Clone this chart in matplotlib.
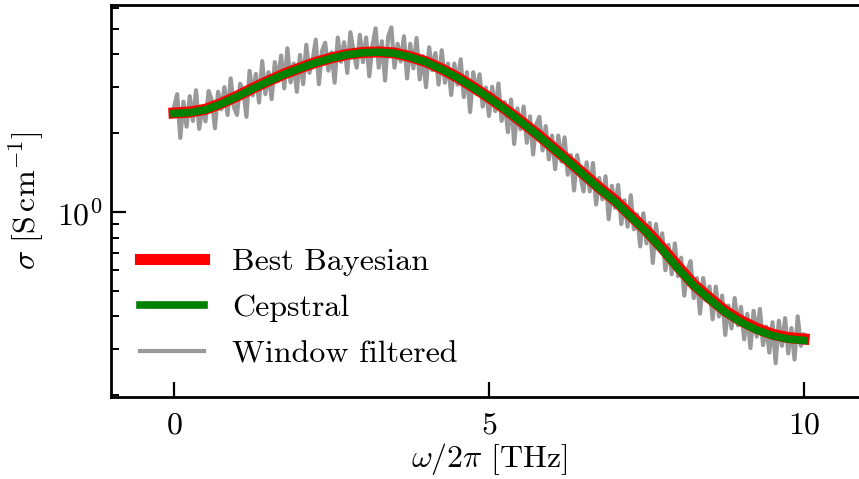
import numpy as np
import matplotlib
matplotlib.use("Agg")
import matplotlib.pyplot as plt
from matplotlib.ticker import LogLocator, NullFormatter, FixedLocator

# ---- data ----
freq_smooth = [0.00, 0.25, 0.50, 0.75, 1.00, 1.25, 1.50, 1.75, 2.00, 2.25,
               2.50, 2.75, 3.00, 3.25, 3.50, 3.75, 4.00, 4.25, 4.50, 4.75,
               5.00, 5.25, 5.50, 5.75, 6.00, 6.25, 6.50, 6.75, 7.00, 7.25,
               7.50, 7.75, 8.00, 8.25, 8.50, 8.75, 9.00, 9.25, 9.50, 9.75,
               10.00]
best_bayesian = [2.39, 2.41, 2.47, 2.60, 2.77, 2.97, 3.17, 3.37, 3.55, 3.73,
                 3.88, 4.00, 4.07, 4.09, 4.05, 3.92, 3.75, 3.52, 3.27, 3.00,
                 2.74, 2.48, 2.23, 2.00, 1.78, 1.58, 1.40, 1.24, 1.11, 0.97,
                 0.85, 0.73, 0.62, 0.53, 0.47, 0.42, 0.385, 0.36, 0.342, 0.332,
                 0.328]
cepstral = [2.38, 2.40, 2.46, 2.59, 2.76, 2.96, 3.16, 3.36, 3.54, 3.72,
            3.87, 3.99, 4.06, 4.08, 4.04, 3.91, 3.74, 3.51, 3.26, 2.99,
            2.73, 2.47, 2.22, 1.99, 1.77, 1.57, 1.39, 1.23, 1.10, 0.96,
            0.84, 0.72, 0.61, 0.525, 0.465, 0.415, 0.38, 0.355, 0.338, 0.328,
            0.324]

freq_window = [round(0.05 * i, 2) for i in range(201)]
window_filtered = [
    2.51, 2.82, 1.92, 2.64, 2.12, 2.77, 2.23, 2.92, 2.08, 2.53,
    2.22, 2.90, 2.67, 2.09, 2.88, 2.47, 3.00, 2.35, 3.24, 2.52,
    2.35, 3.09, 2.91, 2.31, 3.46, 2.79, 3.37, 2.62, 3.77, 2.82,
    3.42, 2.70, 3.74, 3.16, 3.96, 2.97, 4.22, 3.13, 3.69, 2.88,
    3.98, 3.08, 4.35, 3.40, 3.80, 4.55, 3.08, 4.13, 4.43, 3.47,
    4.07, 3.12, 4.64, 3.75, 4.45, 3.40, 4.86, 4.11, 3.56, 4.75,
    3.74, 4.64, 3.30, 4.33, 5.03, 3.56, 4.49, 3.18, 4.68, 5.07,
    3.56, 4.39, 3.76, 4.69, 3.24, 4.39, 3.54, 4.62, 3.21, 3.94,
    3.00, 4.26, 3.48, 4.05, 3.07, 4.15, 3.12, 3.69, 2.80, 3.69,
    3.07, 3.83, 2.75, 3.42, 2.41, 3.42, 2.83, 3.36, 2.53, 2.99,
    2.33, 3.01, 2.43, 3.10, 2.23, 2.63, 2.02, 2.69, 1.82, 2.49,
    2.07, 2.53, 1.84, 2.32, 1.66, 2.16, 2.31, 1.72, 2.13, 1.59,
    1.96, 1.46, 1.96, 1.56, 1.93, 1.39, 1.65, 1.21, 1.65, 1.38,
    1.20, 1.55, 1.20, 1.54, 1.07, 1.35, 1.12, 1.37, 0.94, 1.26,
    1.04, 1.27, 0.90, 1.11, 0.88, 1.16, 0.86, 0.98, 0.74, 0.99,
    0.76, 0.91, 0.64, 0.90, 0.72, 0.83, 0.60, 0.75, 0.58, 0.76,
    0.57, 0.67, 0.48, 0.60, 0.65, 0.47, 0.56, 0.41, 0.56, 0.46,
    0.52, 0.39, 0.52, 0.40, 0.48, 0.34, 0.44, 0.36, 0.47, 0.37,
    0.435, 0.327, 0.409, 0.303, 0.42, 0.335, 0.427, 0.311, 0.366, 0.291,
    0.38, 0.265, 0.385, 0.309, 0.394, 0.289, 0.361, 0.274, 0.40, 0.309,
    0.341]

x_ticks = [0, 5, 10]

# ---- style ----
plt.rcParams.update({
    "font.family": "cmr10",
    "mathtext.fontset": "cm",
    "axes.formatter.use_mathtext": True,
    "font.size": 23,
    "axes.unicode_minus": False,
})

fig = plt.figure(figsize=(8.59, 4.79), dpi=100)
ax = fig.add_axes([111 / 859, 1 - 397 / 479, (867 - 111) / 859, (397 - 5) / 479])

ax.plot(freq_smooth, best_bayesian, color="#ff0000", lw=8, label="Best Bayesian", zorder=3)
ax.plot(freq_smooth, cepstral, color="#008000", lw=5.5, label="Cepstral", zorder=4)
ax.plot(freq_window, window_filtered, color="#999999", lw=3, label="Window filtered", zorder=2)

ax.set_yscale("log")
ymin = 0.197
ax.set_ylim(ymin, ymin * 10 ** (392 / 262))
ax.set_xlim(-1, 11)
ax.xaxis.set_major_locator(FixedLocator(x_ticks))
ax.yaxis.set_major_locator(LogLocator(base=10))
ax.yaxis.set_minor_locator(LogLocator(base=10, subs=np.arange(2, 10)))
ax.yaxis.set_minor_formatter(NullFormatter())

for s in ["left", "top", "bottom", "right"]:
    ax.spines[s].set_linewidth(2)

ax.tick_params(axis="both", which="major", direction="in", length=11, width=1.6,
               labelsize=23)
ax.tick_params(axis="y", which="minor", direction="in", length=6, width=1.4)
ax.tick_params(axis="y", which="major", pad=6)
ax.tick_params(axis="x", which="major", pad=11)
ax.tick_params(top=False, right=False, which="both")

ax.set_xlabel(r"$\omega/2\pi\ [\mathrm{THz}]$", fontsize=23, labelpad=1)
ax.set_ylabel(r"$\sigma\ [\mathrm{S\,cm^{-1}}]$", fontsize=23, labelpad=8)

ax.legend(loc="lower left", frameon=False, fontsize=23, labelspacing=0.55,
          handletextpad=0.9)

fig.savefig("out.png", dpi=100)
